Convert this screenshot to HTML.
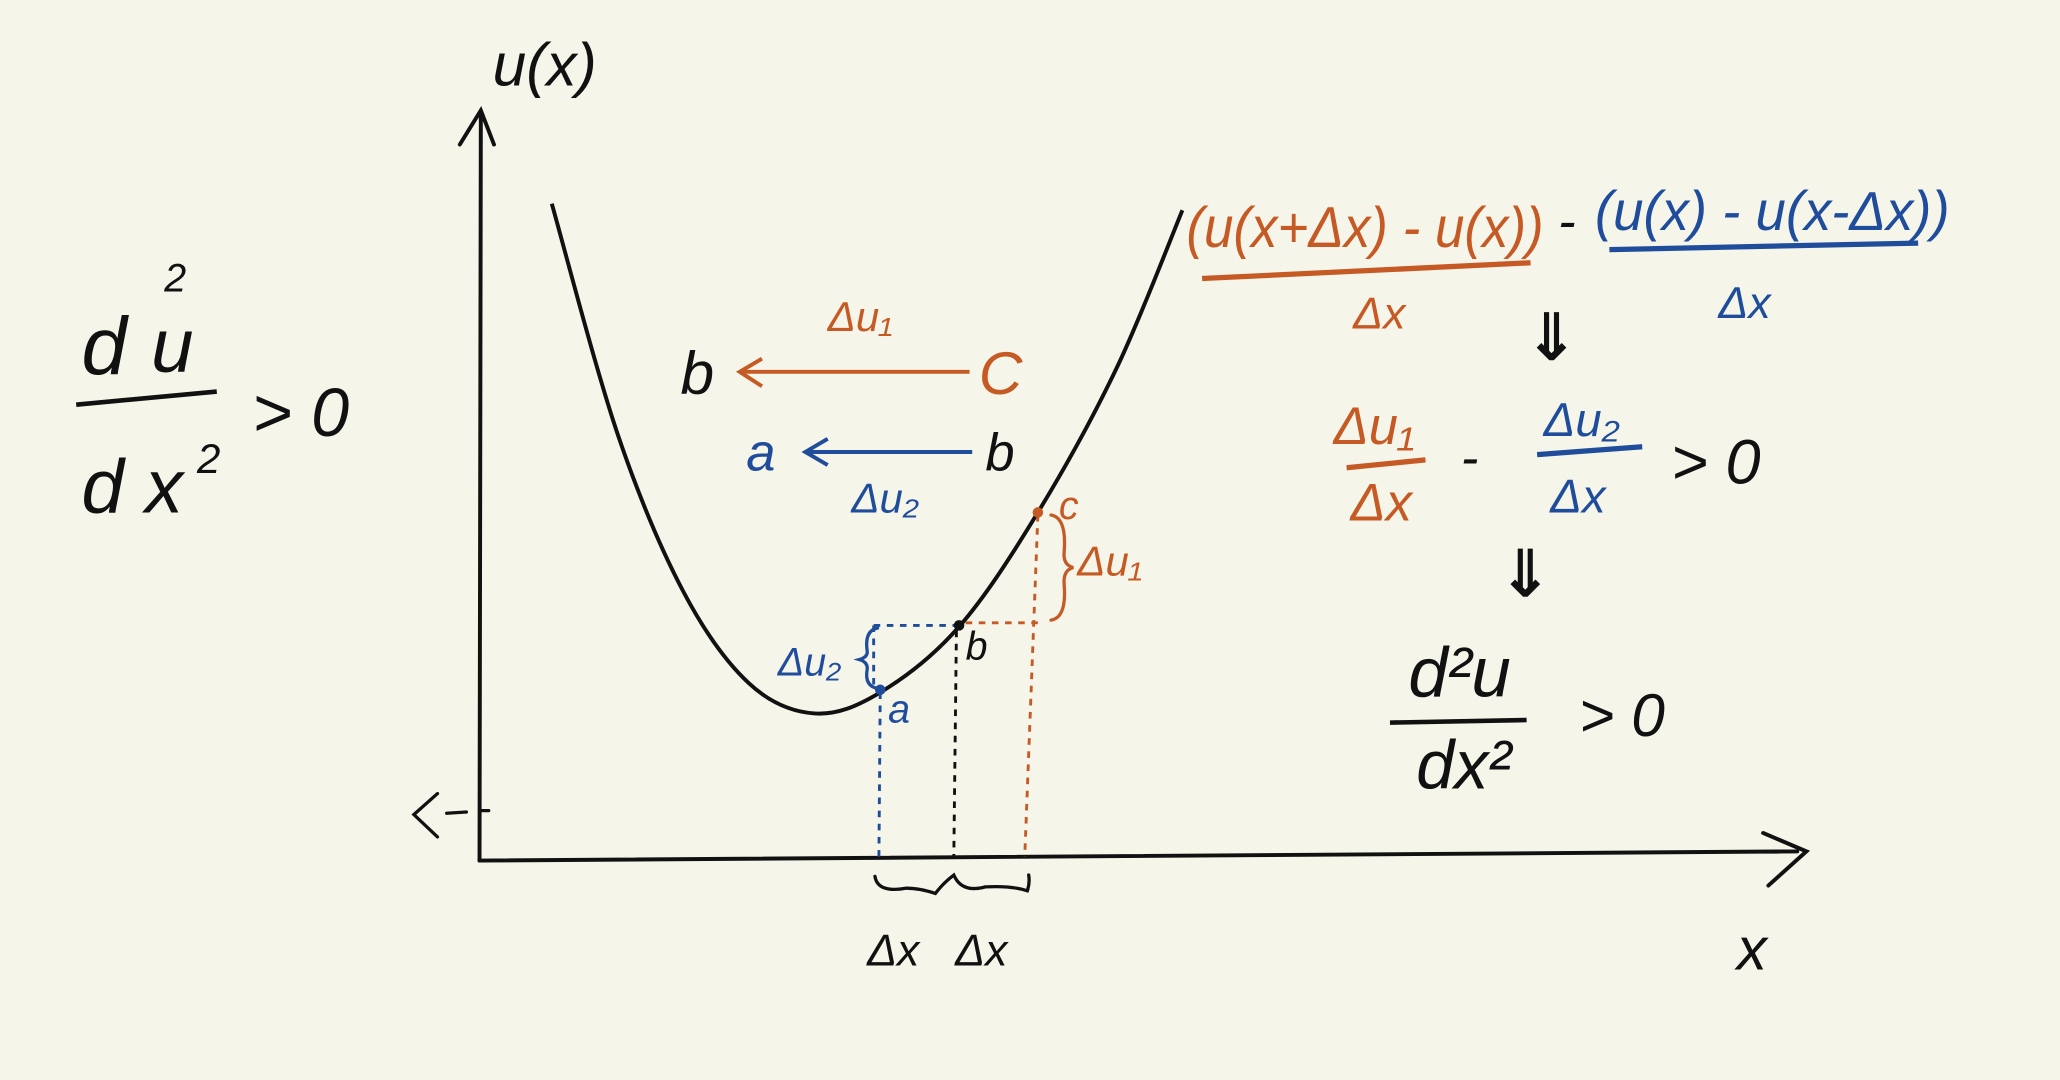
<!DOCTYPE html>
<html><head><meta charset="utf-8"><style>
html,body{margin:0;padding:0;background:#f6f5ea;}
svg{display:block}
text{font-family:"Liberation Sans","DejaVu Sans",sans-serif;font-style:italic;}
.o{fill:#c65a24}.bl{fill:#1f4d9b}.k{fill:#111}
</style></head><body>
<svg id="chart" width="2060" height="1080" viewBox="0 0 1568 822" preserveAspectRatio="none" xmlns="http://www.w3.org/2000/svg">
<rect width="1568" height="822" fill="#f6f5ea"/>
<g id="axes" stroke="#111" stroke-width="3" fill="none" stroke-linecap="round">
 <path d="M365 655 L366 85 M350 110 L366 84 L376 110"/>
 <path d="M365 655 L1368 648 M1342 634 L1375 648 L1346 674"/>
 <path stroke-width="2.5" d="M333 604 L315 620 L333 637 M340 619 L355 618 M365 617 L372 617"/>
</g>
<text x="375" y="65" font-size="46" class="k">u(x)</text>
<text x="1322" y="738" font-size="46" class="k">x</text>
<g id="curve-layer"></g>
<g fill="none" stroke-width="2.2" stroke-dasharray="5 5">
 <path stroke="#1f4d9b" d="M670 527 L669 652 M665 476 L730 476 M665 476 L665 522"/>
 <path stroke="#111" d="M728 480 L726 652"/>
 <path stroke="#c65a24" d="M735 474 L795 474 M790 392 L780 652"/>
</g>
<g fill="none" stroke-width="2.5" stroke-linecap="round">
 <path stroke="#1f4d9b" d="M668 478 Q658 480 660 495 Q661 500 654 502 Q661 504 660 510 Q658 522 668 524"/>
 <path stroke="#c65a24" d="M800 392 Q812 394 810 420 Q809 430 817 432 Q809 434 810 445 Q812 470 800 472"/>
 <path stroke="#111" d="M666 667 Q668 680 690 676 Q700 676 712 680 Q718 672 726 666 Q732 680 750 675 Q770 674 782 678 Q784 672 783 666"/>
</g>
<g>
 <circle cx="670" cy="525" r="4" class="bl"/><circle cx="730" cy="476" r="4" class="k"/><circle cx="790" cy="390" r="4" class="o"/>
 <text x="676" y="550" font-size="30" class="bl">a</text>
 <text x="735" y="502" font-size="30" class="k">b</text>
 <text x="806" y="395" font-size="30" class="o">c</text>
 <text x="592" y="514" font-size="30" class="bl">Δu₂</text>
 <text x="820" y="438" font-size="32" class="o">Δu₁</text>
 <text x="660" y="735" font-size="34" class="k">Δx</text>
 <text x="727" y="735" font-size="34" class="k">Δx</text>
</g>
<g>
 <text x="62" y="285" font-size="62" class="k">d</text><text x="115" y="283" font-size="58" class="k">u</text>
 <text x="125" y="222" font-size="30" class="k">2</text>
 <path d="M58 308 L165 298" stroke="#111" stroke-width="3.5"/>
 <text x="62" y="390" font-size="58" class="k">d x</text><text x="150" y="360" font-size="32" class="k">2</text>
 <text x="192" y="332" font-size="52" class="k">&gt; 0</text>
</g>
<g>
 <text x="630" y="252" font-size="32" class="o">Δu₁</text>
 <text x="518" y="300" font-size="46" class="k">b</text>
 <path d="M738 283 L565 283 M580 273 L563 283 L580 294" stroke="#c65a24" stroke-width="3" fill="none"/>
 <text x="745" y="300" font-size="46" class="o">C</text>
 <text x="568" y="358" font-size="40" class="bl">a</text>
 <path d="M740 344 L615 344 M630 334 L613 344 L630 354" stroke="#1f4d9b" stroke-width="3" fill="none"/>
 <text x="750" y="358" font-size="40" class="k">b</text>
 <text x="648" y="390" font-size="32" class="bl">Δu₂</text>
</g>
<g>
 <text x="903" y="188" font-size="44" class="o" textLength="272" lengthAdjust="spacingAndGlyphs">(u(x+Δx) - u(x))</text>
 <text x="1186" y="182" font-size="40" class="k">-</text>
 <text x="1214" y="175" font-size="42" class="bl" textLength="270" lengthAdjust="spacingAndGlyphs">(u(x) - u(x-Δx))</text>
 <path d="M915 212 L1165 200" stroke="#c65a24" stroke-width="4"/>
 <path d="M1225 190 L1460 185" stroke="#1f4d9b" stroke-width="4"/>
 <text x="1030" y="250" font-size="34" class="o">Δx</text>
 <text x="1308" y="242" font-size="34" class="bl">Δx</text>
 <text x="1160" y="274" font-size="50" class="k" font-weight="bold">⇓</text>
 <text x="1015" y="338" font-size="40" class="o">Δu₁</text>
 <path d="M1025 356 L1085 350" stroke="#c65a24" stroke-width="4"/>
 <text x="1028" y="396" font-size="40" class="o">Δx</text>
 <text x="1112" y="362" font-size="40" class="k">-</text>
 <text x="1175" y="332" font-size="36" class="bl">Δu₂</text>
 <path d="M1170 346 L1250 340" stroke="#1f4d9b" stroke-width="4"/>
 <text x="1180" y="390" font-size="36" class="bl">Δx</text>
 <text x="1272" y="368" font-size="48" class="k">&gt; 0</text>
 <text x="1140" y="454" font-size="50" class="k" font-weight="bold">⇓</text>
 <text x="1072" y="530" font-size="54" class="k">d²u</text>
 <path d="M1058 550 L1162 548" stroke="#111" stroke-width="3.5"/>
 <text x="1078" y="600" font-size="52" class="k">dx²</text>
 <text x="1202" y="560" font-size="46" class="k">&gt; 0</text>
</g>
</svg>
<script>
const curveX=[5.5,10.5,15.5,20.5,25.5,30.5,36.5,42.5,48.5,53.5];
const curveU=[50,32.5,20.5,13.5,11.2,12.8,17.8,26.5,37.5,49.5];
function xs(v){return 365+v*10;}
function ys(v){return 655-v*10;}
const pts=curveX.map((x,i)=>[xs(x),ys(curveU[i])]);
let d='M'+pts[0][0]+' '+pts[0][1];
for(let i=0;i<pts.length-1;i++){
 const p0=pts[i-1]||pts[i],p1=pts[i],p2=pts[i+1],p3=pts[i+2]||p2;
 const c1=[p1[0]+(p2[0]-p0[0])/6,p1[1]+(p2[1]-p0[1])/6];
 const c2=[p2[0]-(p3[0]-p1[0])/6,p2[1]-(p3[1]-p1[1])/6];
 d+=` C${c1[0]} ${c1[1]} ${c2[0]} ${c2[1]} ${p2[0]} ${p2[1]}`;
}
const path=document.createElementNS('http://www.w3.org/2000/svg','path');
path.setAttribute('d',d);path.setAttribute('fill','none');path.setAttribute('stroke','#111');path.setAttribute('stroke-width','3');


document.getElementById('curve-layer').appendChild(path);
</script>
</body></html>
